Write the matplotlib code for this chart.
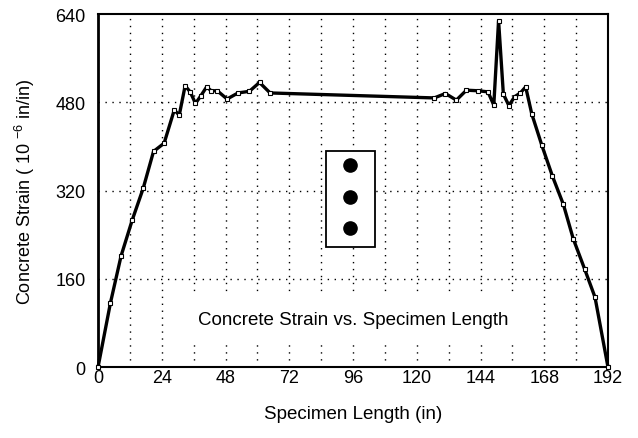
import matplotlib
matplotlib.use("Agg")
import matplotlib.pyplot as plt
from matplotlib.patches import Rectangle

plt.rcParams["font.family"] = ["Liberation Sans", "DejaVu Sans"]
plt.rcParams["mathtext.fontset"] = "custom"
plt.rcParams["mathtext.rm"] = "Liberation Sans"

# gauge positions along the specimen (in) and measured strain (1e-6 in/in)
length_in = [0, 4.7, 8.7, 12.9, 17.0, 20.9, 24.9, 28.7, 30.6, 32.8, 34.7,
             36.7, 38.6, 40.9, 42.6, 44.9, 48.6, 52.7, 57.0, 60.8, 64.8,
             126.6, 130.8, 134.9, 138.7, 143.0, 146.8, 149.0, 150.8, 152.6,
             154.7, 156.8, 159.0, 161.0, 163.3, 167.1, 171.1, 175.2, 178.9,
             183.2, 187.1, 192]
strain = [0, 117, 202, 267, 324, 391, 406, 466, 457, 510, 499,
          478, 491, 508, 501, 501, 486, 497, 500, 516, 497,
          488, 496, 484, 502, 501, 499, 475, 628, 495,
          474, 490, 497, 508, 459, 402, 346, 295, 233,
          178, 127, 0]

x_ticks = [0, 24, 48, 72, 96, 120, 144, 168, 192]
x_grid = [12 * k for k in range(1, 16)]
y_ticks = [0, 160, 320, 480, 640]

# cross-section icon (three bars)
icon_x = [94.7, 94.7, 94.7]
icon_y = [366, 308, 252]

fig = plt.figure(figsize=(6.38, 4.39), dpi=100)
ax = fig.add_axes([0.1536, 0.161, 0.7994, 0.8048])

ax.set_xlim(0, 192)
ax.set_ylim(0, 640)

grid_style = dict(color="black", linewidth=1.0, linestyle=(0, (1, 4)), zorder=1)
for gx in x_grid:
    ax.axvline(gx, **grid_style)
for gy in y_ticks[1:-1]:
    ax.axhline(gy, **grid_style)

# white area behind the caption
ax.add_patch(Rectangle((26, 42), 136, 89, facecolor="white",
                       edgecolor="none", zorder=2))
ax.text(96.2, 86, "Concrete Strain vs. Specimen Length", fontsize=13.5,
        ha="center", va="center", zorder=3)

# icon box
ax.add_patch(Rectangle((85.8, 217.5), 18.6, 174.5, facecolor="white",
                       edgecolor="black", linewidth=1.3, zorder=3))
ax.plot(icon_x, icon_y, "o", color="black", markersize=9.5, zorder=4)

ax.plot(length_in, strain, color="black", linewidth=2.4, marker="s",
        markersize=3.5, markerfacecolor="white", markeredgecolor="black",
        markeredgewidth=0.8, zorder=5, clip_on=False)

ax.set_xticks(x_ticks)
ax.set_yticks(y_ticks)
ax.tick_params(axis="both", length=0, labelsize=13)
ax.tick_params(axis="x", pad=1)
ax.tick_params(axis="y", pad=9)

for side in ["top", "bottom", "right"]:
    ax.spines[side].set_linewidth(1.5)
ax.spines["left"].set_linewidth(2.0)

ax.set_xlabel("Specimen Length (in)", fontsize=13.5, labelpad=14)
ax.set_ylabel(r"Concrete Strain ( 10 $^{-6}$ in/in)", fontsize=13, labelpad=13)

fig.savefig("out.png", dpi=100)
